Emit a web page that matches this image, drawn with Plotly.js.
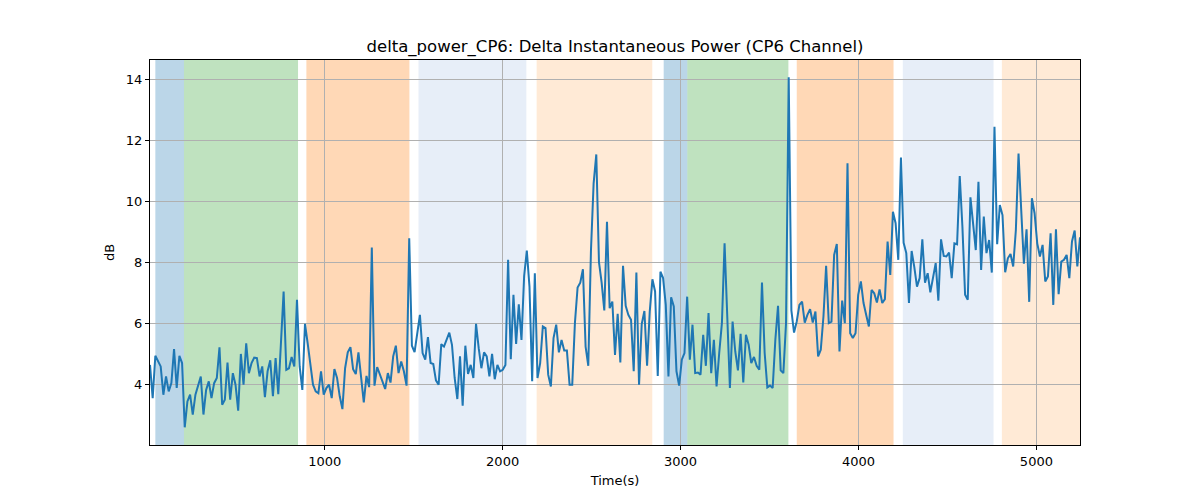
<!DOCTYPE html>
<html>
<head>
<meta charset="utf-8">
<script src="https://cdn.plot.ly/plotly-3.0.1.min.js"></script>
<style>
  html, body { margin: 0; padding: 0; background: #fff; }
  #chart { width: 1200px; height: 500px; }
</style>
</head>
<body>
<div id="chart"></div>
<script>
// sampling of the delta power trace
var startTime = 18;
var sampleStep = 15.02;

// delta power (dB), one value per sample
var deltaDb = [
  4.63, 3.54, 4.93, 4.74, 4.58, 3.65, 4.25, 3.76, 4.03, 5.15, 3.87, 4.93, 4.69, 2.58, 3.43, 3.65, 3.0, 3.65, 3.98, 4.25,
  3.0, 3.81, 4.09, 3.54, 4.03, 4.2, 5.21, 3.32, 3.49, 4.71, 3.49, 4.36, 3.98, 3.13, 4.99, 3.98, 5.34, 4.36, 4.69, 4.87,
  4.85, 4.25, 4.58, 3.57, 4.42, 4.78, 3.6, 4.85, 3.67, 5.34, 7.04, 4.47, 4.52, 4.89, 4.58, 6.77, 4.58, 3.81, 5.98, 5.34,
  4.69, 3.98, 3.76, 3.7, 4.42, 3.65, 3.87, 3.98, 3.54,
  4.49, 4.2, 3.6, 3.18, 4.52, 5.04, 5.21, 4.49, 4.33, 5.04, 4.14, 3.4, 4.27, 3.9, 8.48, 3.95, 4.56, 4.31, 4.05, 3.84,
  4.36, 4.05, 4.91, 5.26, 4.36, 4.74, 4.42, 3.95, 8.79, 5.26, 5.05, 5.69, 6.27, 5.02, 4.8, 5.54, 4.69, 4.66, 4.12, 3.98,
  5.31, 5.23, 5.48, 5.69, 5.29, 4.2, 3.51, 4.91, 3.29, 5.26, 4.33, 4.63, 4.2, 5.98, 5.18, 4.52, 5.04, 4.91, 4.25, 4.99,
  4.16, 4.63, 4.42, 4.47, 4.63, 8.08, 4.82, 6.93, 5.32,
  6.62, 5.45, 7.55, 8.38, 7.2, 4.09, 7.64, 4.2, 4.69, 5.89, 5.84, 4.31, 3.92, 5.51, 5.95, 5.04, 5.45, 5.1, 5.1, 3.98,
  3.98, 6.0, 7.17, 7.33, 7.77, 5.23, 4.6, 8.38, 10.59, 11.54, 8.0, 7.33, 6.42, 9.33, 6.49, 6.71, 4.96, 6.31, 4.71, 7.88,
  6.57, 6.27, 6.11, 4.42, 7.66, 3.98, 5.97, 6.4, 4.6, 6.38, 7.44, 7.04, 4.27, 7.69, 7.48, 6.6, 4.25, 6.85, 6.55, 4.42,
  3.95, 4.8, 5.02, 6.87, 4.8, 5.95, 4.36, 4.38, 4.31, 5.62,
  4.6, 6.33, 4.36, 5.45, 3.92, 5.02, 6.0, 8.62, 6.0, 3.87, 6.05, 5.07, 4.45, 5.65, 4.05, 5.62, 5.29, 4.69, 4.89, 4.6,
  4.47, 7.33, 5.02, 3.89, 3.95, 3.87, 5.45, 6.57, 4.45, 4.36, 6.0, 14.07, 6.42, 5.69, 6.05, 6.6, 6.71, 6.02, 6.27, 6.46,
  6.02, 6.38, 4.91, 5.13, 6.22, 7.88, 6.0, 6.05, 8.24, 8.6, 5.07, 6.74, 6.0, 11.25, 5.67, 5.51, 5.67, 6.93, 7.37, 6.66,
  6.27, 5.89, 7.09, 6.98, 6.68, 7.11, 6.66, 6.79, 8.68,
  7.58, 9.66, 9.28, 8.08, 11.44, 8.64, 8.3, 6.66, 8.37, 7.84, 7.2, 7.48, 8.75, 7.33, 7.64, 7.01, 7.48, 7.97, 6.74, 8.75,
  8.21, 8.19, 8.32, 7.48, 8.62, 8.59, 10.83, 9.17, 6.93, 6.77, 10.13, 9.3, 8.4, 10.64, 7.75, 9.5, 8.3, 8.73, 7.66, 12.45,
  8.59, 9.88, 9.55, 7.67, 8.13, 8.27, 7.86, 9.06, 11.57, 9.72, 7.95, 9.08, 6.7, 10.1, 9.61, 8.62, 8.19, 8.57, 7.37, 7.53,
  8.95, 6.6, 9.08, 6.95, 8.02, 8.08, 8.24, 7.48, 8.68, 9.04, 7.86, 8.82
];

// shaded stage spans (s)
var spanStart = [48, 209, 897, 1527, 2191, 2905, 3038, 3653, 4249, 4806];
var spanEnd   = [209, 850, 1476, 2133, 2841, 3038, 3606, 4197, 4759, 5260];
var spanColor = ['#1f77b4', '#2ca02c', '#ff7f0e', '#aec7e8', '#ffbb78',
                 '#1f77b4', '#2ca02c', '#ff7f0e', '#aec7e8', '#ffbb78'];

var times = deltaDb.map(function(v, i) { return startTime + i * sampleStep; });

var shapes = spanStart.map(function(s, i) {
  return {
    type: 'rect', xref: 'x', yref: 'paper',
    x0: s, x1: spanEnd[i], y0: 0, y1: 1,
    fillcolor: spanColor[i], opacity: 0.3,
    line: {width: 0}, layer: 'below'
  };
});

var trace = {
  x: times,
  y: deltaDb,
  type: 'scatter',
  mode: 'lines',
  line: {color: '#1f77b4', width: 2},
  hoverinfo: 'x+y'
};

var axisFont = {family: 'DejaVu Sans, sans-serif', size: 13, color: '#000'};

var layout = {
  width: 1200,
  height: 500,
  margin: {l: 150, r: 120, t: 60, b: 55},
  paper_bgcolor: '#fff',
  plot_bgcolor: 'rgba(0,0,0,0)',
  showlegend: false,
  title: {
    text: 'delta_power_CP6: Delta Instantaneous Power (CP6 Channel)',
    font: {family: 'DejaVu Sans, sans-serif', size: 16.5, color: '#000'},
    xref: 'paper', x: 0.5, xanchor: 'center',
    yref: 'container', y: 1 - 46 / 500, yanchor: 'middle'
  },
  xaxis: {
    range: [times[0], times[times.length - 1]],
    tickvals: [1000, 2000, 3000, 4000, 5000],
    ticks: 'outside', ticklen: 4, tickcolor: '#000',
    showgrid: true, gridcolor: '#b0b0b0', gridwidth: 1,
    zeroline: false,
    showline: true, linecolor: '#000', linewidth: 1, mirror: true,
    tickfont: axisFont,
    title: {text: 'Time(s)', font: axisFont, standoff: 8}
  },
  yaxis: {
    range: [2.0, 14.64],
    tickvals: [4, 6, 8, 10, 12, 14],
    ticks: 'outside', ticklen: 4, tickcolor: '#000',
    showgrid: true, gridcolor: '#b0b0b0', gridwidth: 1,
    zeroline: false,
    showline: true, linecolor: '#000', linewidth: 1, mirror: true,
    tickfont: axisFont,
    title: {text: 'dB', font: axisFont, standoff: 8}
  },
  shapes: shapes
};

Plotly.newPlot('chart', [trace], layout, {displayModeBar: false, staticPlot: true});
</script>
</body>
</html>
